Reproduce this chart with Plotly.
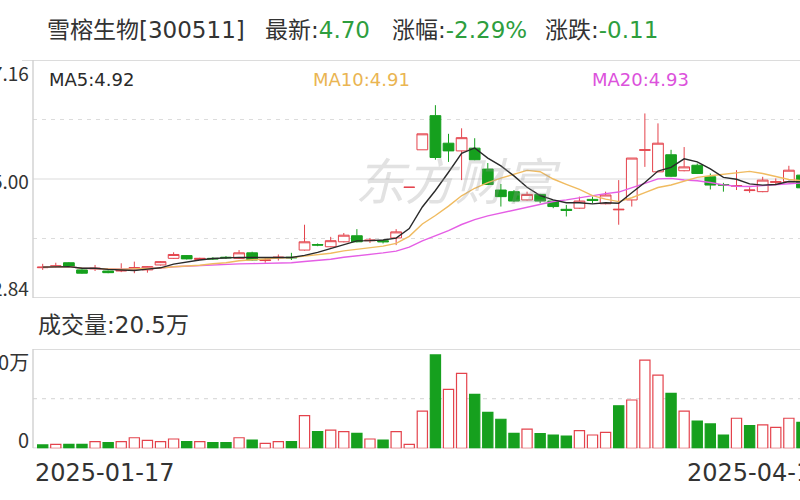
import plotly.graph_objects as go
import pandas as pd

# ---------------- data ----------------
dates = [
    "2025-01-17", "2025-01-20", "2025-01-21", "2025-01-22", "2025-01-23", "2025-01-24", "2025-01-27",
    "2025-02-05", "2025-02-06", "2025-02-07",
    "2025-02-10", "2025-02-11", "2025-02-12", "2025-02-13", "2025-02-14",
    "2025-02-17", "2025-02-18", "2025-02-19", "2025-02-20", "2025-02-21",
    "2025-02-24", "2025-02-25", "2025-02-26", "2025-02-27", "2025-02-28",
    "2025-03-03", "2025-03-04", "2025-03-05", "2025-03-06", "2025-03-07",
    "2025-03-10", "2025-03-11", "2025-03-12", "2025-03-13", "2025-03-14",
    "2025-03-17", "2025-03-18", "2025-03-19", "2025-03-20", "2025-03-21",
    "2025-03-24", "2025-03-25", "2025-03-26", "2025-03-27", "2025-03-28",
    "2025-03-31", "2025-04-01", "2025-04-02", "2025-04-03",
    "2025-04-07", "2025-04-08", "2025-04-09", "2025-04-10", "2025-04-11",
    "2025-04-14", "2025-04-15", "2025-04-16", "2025-04-17", "2025-04-18",
]
opens = [3.39, 3.42, 3.48, 3.35, 3.37, 3.33, 3.33, 3.38, 3.35, 3.44,
         3.56, 3.61, 3.54, 3.56, 3.58, 3.56, 3.66, 3.52, 3.57, 3.58,
         3.71, 3.81, 3.77, 3.86, 3.97, 3.88, 3.88, 3.93, 4.85, 5.53,
         6.15, 5.65, 5.51, 5.56, 5.18, 4.80, 4.77, 4.62, 4.72, 4.60,
         4.45, 4.47, 4.63, 4.55, 4.44, 4.62, 5.52, 5.13, 5.44, 5.15,
         5.25, 5.04, 4.90, 4.87, 4.79, 4.77, 4.94, 4.95, 5.07]
highs = [3.46, 3.48, 3.49, 3.36, 3.44, 3.34, 3.47, 3.50, 3.42, 3.51,
         3.67, 3.62, 3.57, 3.58, 3.60, 3.71, 3.68, 3.58, 3.63, 3.66,
         4.17, 3.83, 3.95, 4.02, 4.09, 3.93, 3.89, 4.09, 4.85, 5.82,
         6.34, 5.82, 5.92, 5.74, 5.29, 4.91, 4.80, 4.77, 4.73, 4.61,
         4.53, 4.68, 4.68, 4.77, 4.98, 5.38, 6.19, 6.01, 5.53, 5.58,
         5.28, 5.10, 4.93, 5.16, 4.85, 5.04, 5.01, 5.24, 5.10]
lows = [3.35, 3.39, 3.40, 3.28, 3.33, 3.29, 3.31, 3.29, 3.30, 3.43,
        3.55, 3.54, 3.53, 3.53, 3.55, 3.55, 3.52, 3.48, 3.52, 3.53,
        3.70, 3.78, 3.76, 3.85, 3.85, 3.84, 3.83, 3.80, 4.85, 5.53,
        5.35, 5.31, 4.98, 5.34, 4.89, 4.50, 4.58, 4.61, 4.56, 4.47,
        4.32, 4.46, 4.56, 4.54, 4.17, 4.50, 5.22, 5.12, 5.04, 5.14,
        5.09, 4.81, 4.77, 4.80, 4.75, 4.76, 4.89, 4.94, 4.80]
closes = [3.40, 3.42, 3.41, 3.29, 3.38, 3.30, 3.34, 3.39, 3.41, 3.50,
          3.63, 3.55, 3.56, 3.55, 3.57, 3.66, 3.53, 3.53, 3.58, 3.57,
          3.86, 3.80, 3.88, 3.98, 3.86, 3.89, 3.86, 4.04, 4.85, 5.82,
          5.39, 5.51, 5.75, 5.35, 4.90, 4.68, 4.60, 4.72, 4.60, 4.50,
          4.43, 4.60, 4.61, 4.71, 4.45, 5.38, 5.53, 5.65, 5.05, 5.22,
          5.10, 4.89, 4.89, 4.88, 4.80, 4.98, 4.95, 5.16, 4.84]
volumes = [2.7, 3.2, 3.2, 3.2, 5.3, 4.5, 5.3, 8.5, 6.4, 5.3,
           7.5, 5.3, 5.3, 4.5, 4.5, 8.5, 6.7, 4.0, 5.3, 5.3,
           26.3, 13.4, 14.7, 13.4, 12.1, 7.5, 6.7, 13.4, 3.2, 30.0,
           75.2, 47.5, 60.4, 43.5, 29.0, 23.4, 12.1, 15.5, 11.8, 10.7,
           9.9, 14.2, 10.7, 12.9, 34.3, 38.9, 71.1, 59.0, 44.3, 30.0,
           22.0, 19.6, 10.7, 24.2, 18.2, 18.8, 16.9, 24.2, 20.9]
vol_up = [0, 1, 0, 0, 1, 0, 1, 1, 1, 1,
          1, 0, 1, 0, 0, 1, 0, 1, 1, 0,
          1, 0, 1, 1, 0, 1, 0, 1, 1, 1,
          0, 1, 1, 0, 0, 0, 0, 1, 0, 0,
          0, 1, 1, 1, 0, 1, 1, 1, 0, 1,
          0, 0, 0, 1, 0, 1, 1, 1, 0]

price_ticks = [7.16, 5.00, 2.84]
price_tick_labels = ["7.16", "5.00", "2.84"]
price_dashed = [6.08, 3.92]
vol_ticks = [80, 0]
vol_tick_labels = ["80万", "0"]
vol_dashed = [40]
date_labels = ["2025-01-17", "2025-04-18"]

title_parts = [("雪榕生物[300511]", None), ("最新:", "4.70"), ("涨幅:", "-2.29%"), ("涨跌:", "-0.11")]
ma_labels = [("MA5:4.92", "#2a2a2a"), ("MA10:4.91", "#eab552"), ("MA20:4.93", "#dc52dc")]
vol_title = "成交量:20.5万"

# ---------------- derived ----------------
cs = pd.Series(closes)
ma5 = cs.rolling(5, min_periods=1).mean()
ma10 = cs.rolling(10, min_periods=1).mean()
ma20 = cs.rolling(20, min_periods=1).mean()

RED = "#e4434c"
GREEN = "#16a01e"
W, H = 800, 500
FONT = "DejaVu Sans, Noto Sans CJK SC"
TICKFONT = "Noto Sans CJK SC"

def px(x):
    return x / W

def py(y):
    return 1 - y / H

x_left = 33
fig = go.Figure()

fig.add_trace(go.Candlestick(
    x=dates, open=opens, high=highs, low=lows, close=closes,
    increasing=dict(line=dict(color=RED, width=1), fillcolor="white"),
    decreasing=dict(line=dict(color=GREEN, width=1), fillcolor=GREEN),
    whiskerwidth=0, xaxis="x", yaxis="y", hoverinfo="skip",
))
for ser, col, w in [(ma20, "#e55ee5", 1.4), (ma10, "#f0bb60", 1.4), (ma5, "#2a2a2a", 1.4)]:
    fig.add_trace(go.Scatter(x=dates, y=ser, mode="lines", line=dict(color=col, width=w),
                             xaxis="x", yaxis="y", hoverinfo="skip"))

fig.add_trace(go.Bar(
    x=dates, y=volumes, width=0.78,
    marker=dict(color=["white" if u else GREEN for u in vol_up],
                line=dict(color=[RED if u else GREEN for u in vol_up], width=1.2)),
    xaxis="x2", yaxis="y2", hoverinfo="skip",
))

xrange = [-0.741, 57.85]
price_dom = [py(298), py(60)]
vol_dom = [py(448.3), py(349)]

fig.update_layout(
    width=W, height=H, margin=dict(l=0, r=0, t=0, b=0),
    paper_bgcolor="white", plot_bgcolor="white", showlegend=False,
    boxgap=0.18, boxgroupgap=0,
    font=dict(family=FONT, color="#333333"),
    xaxis=dict(domain=[px(x_left), 1], type="category", range=xrange, showticklabels=False,
               showgrid=False, zeroline=False, rangeslider=dict(visible=False), anchor="y", fixedrange=True),
    xaxis2=dict(domain=[px(x_left), 1], type="category", range=xrange, showticklabels=False,
                showgrid=False, zeroline=False, anchor="y2", matches="x"),
    yaxis=dict(domain=price_dom, range=[2.84, 7.16], showticklabels=False, showgrid=False, zeroline=False),
    yaxis2=dict(domain=vol_dom, range=[0, 80], showticklabels=False, showgrid=False, zeroline=False),
)

shapes = []
GRID = "#dcdcdc"
BORDER = "#d0d0d0"
for v in price_dashed:
    shapes.append(dict(type="line", xref="paper", yref="y", x0=px(x_left), x1=1, y0=v, y1=v,
                       line=dict(color=GRID, width=1.2, dash="4px,5px"), layer="below"))
shapes.append(dict(type="line", xref="paper", yref="y", x0=px(x_left), x1=1, y0=5.00, y1=5.00,
                   line=dict(color=GRID, width=1.2), layer="below"))
shapes.append(dict(type="line", xref="paper", yref="y", x0=px(22), x1=1, y0=7.16, y1=7.16,
                   line=dict(color=BORDER, width=1.6), layer="below"))
shapes.append(dict(type="line", xref="paper", yref="y", x0=px(x_left), x1=1, y0=2.84, y1=2.84,
                   line=dict(color=BORDER, width=1.6), layer="below"))
shapes.append(dict(type="line", xref="paper", yref="y", x0=px(x_left), x1=px(x_left), y0=2.84, y1=7.16,
                   line=dict(color=BORDER, width=1.4), layer="below"))
for v in vol_dashed:
    shapes.append(dict(type="line", xref="paper", yref="y2", x0=px(x_left), x1=1, y0=v, y1=v,
                       line=dict(color=GRID, width=1.2, dash="4px,5px"), layer="below"))
for v in [80, 0]:
    shapes.append(dict(type="line", xref="paper", yref="y2", x0=px(x_left), x1=1, y0=v, y1=v,
                       line=dict(color=BORDER, width=1.6), layer="below"))
shapes.append(dict(type="line", xref="paper", yref="y2", x0=px(x_left), x1=px(x_left), y0=0, y1=80,
                   line=dict(color=BORDER, width=1.4), layer="below"))
fig.update_layout(shapes=shapes)

ann = []
# watermark first so it sits under the other texts
ann.append(dict(xref="paper", yref="paper", x=px(458), y=py(178), xanchor="center", yanchor="middle",
                text="<i>东方财富</i>", showarrow=False,
                font=dict(size=50, color="rgba(150,150,150,0.28)", family="Noto Sans CJK SC")))
title_x = [45, 263, 390, 543]
for (lab, val), x in zip(title_parts, title_x):
    txt = lab if val is None else f"{lab}<span style='color:#2e9e3e'>{val}</span>"
    ann.append(dict(xref="paper", yref="paper", x=px(x), y=py(30), xanchor="left", yanchor="middle",
                    text=txt, showarrow=False, font=dict(size=23, color="#333333", family=FONT)))
for (txt, col), x in zip(ma_labels, [47, 311, 590]):
    ann.append(dict(xref="paper", yref="paper", x=px(x), y=py(79), xanchor="left", yanchor="middle",
                    text=txt, showarrow=False, font=dict(size=18, color=col, family=FONT)))
for lab, yy in zip(price_tick_labels, [72, 180, 287]):
    ann.append(dict(xref="paper", yref="paper", x=px(31), y=py(yy), xanchor="right", yanchor="middle",
                    text=lab, showarrow=False, font=dict(size=19, color="#333333", family=TICKFONT)))
ann.append(dict(xref="paper", yref="paper", x=px(36), y=py(325), xanchor="left", yanchor="middle",
                text=vol_title, showarrow=False, font=dict(size=23, color="#333333", family=FONT)))
for lab, yy in zip(vol_tick_labels, [361, 439]):
    ann.append(dict(xref="paper", yref="paper", x=px(31), y=py(yy), xanchor="right", yanchor="middle",
                    text=lab, showarrow=False, font=dict(size=20, color="#333333", family=TICKFONT)))
ann.append(dict(xref="paper", yref="paper", x=px(33), y=py(473), xanchor="left", yanchor="middle",
                text=date_labels[0], showarrow=False, font=dict(size=24, color="#333333", family=FONT)))
ann.append(dict(xref="paper", yref="paper", x=px(685), y=py(473), xanchor="left", yanchor="middle",
                text=date_labels[1], showarrow=False, font=dict(size=24, color="#333333", family=FONT)))
fig.update_layout(annotations=ann)

fig.write_html("out.html", config=dict(displayModeBar=False, staticPlot=True),
               post_script="document.body.style.margin='0px';document.body.style.overflow='hidden';")
